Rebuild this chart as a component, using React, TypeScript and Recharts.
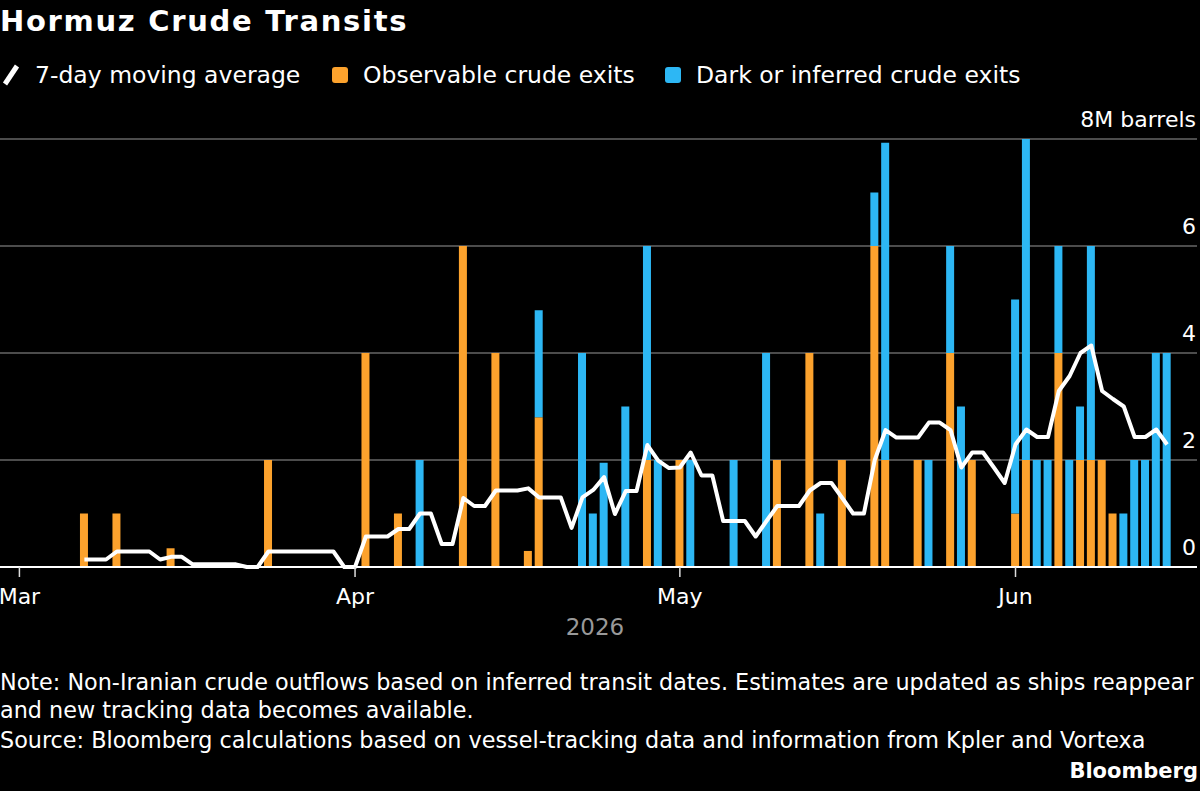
import React from 'react';
import { ComposedChart, Bar, Line, XAxis, YAxis, CartesianGrid } from 'recharts';

// ---- categories ----
const monthNames = ['Mar', 'Apr', 'May', 'Jun'];
const monthDays = [31, 30, 31, 15];

// ---- observable crude exits (M barrels), one value per day ----
const observableMar = [0, 0, 0, 0, 0, 0, 1, 0, 0, 1, 0, 0, 0, 0, 0.35, 0, 0, 0, 0, 0, 0, 0, 0, 2, 0, 0, 0, 0, 0, 0, 0];
const observableApr = [0, 4, 0, 0, 1, 0, 0, 0, 0, 0, 6, 0, 0, 4, 0, 0, 0.3, 2.8, 0, 0, 0, 0, 0, 0, 0, 0, 0, 2, 0, 0];
const observableMay = [2, 0, 0, 0, 0, 0, 0, 0, 0, 2, 0, 0, 4, 0, 0, 2, 0, 0, 6, 2, 0, 0, 2, 0, 0, 4, 0, 2, 0, 0, 0];
const observableJun = [1, 2, 0, 0, 4, 0, 2, 2, 2, 1, 0, 0, 0, 0, 0];

// ---- dark or inferred crude exits (M barrels) ----
const darkMar = [0, 0, 0, 0, 0, 0, 0, 0, 0, 0, 0, 0, 0, 0, 0, 0, 0, 0, 0, 0, 0, 0, 0, 0, 0, 0, 0, 0, 0, 0, 0];
const darkApr = [0, 0, 0, 0, 0, 0, 2, 0, 0, 0, 0, 0, 0, 0, 0, 0, 0, 2, 0, 0, 0, 4, 1, 1.95, 0, 3, 0, 4, 2, 0];
const darkMay = [0, 2, 0, 0, 0, 2, 0, 0, 4, 0, 0, 0, 0, 1, 0, 0, 0, 0, 1, 5.93, 0, 0, 0, 2, 0, 2, 3, 0, 0, 0, 0];
const darkJun = [4, 6, 2, 2, 2, 2, 1, 4, 0, 0, 1, 2, 2, 4, 4];

// ---- 7-day moving average (M barrels) ----
const avgMar = [null, null, null, null, null, null, 0.14, 0.14, 0.14, 0.29, 0.29, 0.29, 0.29, 0.14, 0.19, 0.19, 0.05, 0.05, 0.05, 0.05, 0.05, 0, 0, 0.29, 0.29, 0.29, 0.29, 0.29, 0.29, 0.29, 0];
const avgApr = [0, 0.57, 0.57, 0.57, 0.71, 0.71, 1.0, 1.0, 0.43, 0.43, 1.29, 1.14, 1.14, 1.43, 1.43, 1.43, 1.47, 1.3, 1.3, 1.3, 0.73, 1.3, 1.44, 1.68, 0.99, 1.42, 1.42, 2.28, 1.99, 1.85];
const avgMay = [1.86, 2.14, 1.71, 1.71, 0.86, 0.86, 0.86, 0.57, 0.86, 1.14, 1.14, 1.14, 1.43, 1.57, 1.57, 1.29, 1.0, 1.0, 2.0, 2.56, 2.42, 2.42, 2.42, 2.7, 2.7, 2.56, 1.86, 2.14, 2.14, 1.86, 1.57];
const avgJun = [2.29, 2.57, 2.43, 2.43, 3.29, 3.57, 4.0, 4.14, 3.29, 3.14, 3.0, 2.43, 2.43, 2.57, 2.29];

// ---- axis ticks ----
const yTicks = [0, 2, 4, 6, 8];
const yTickLabels = ['0', '2', '4', '6', '8M barrels'];

const observable = [...observableMar, ...observableApr, ...observableMay, ...observableJun];
const dark = [...darkMar, ...darkApr, ...darkMay, ...darkJun];
const avg = [...avgMar, ...avgApr, ...avgMay, ...avgJun];

const categories: string[] = [];
monthNames.forEach((m, i) => {
  for (let d = 1; d <= monthDays[i]; d++) categories.push(`${m} ${d}`);
});
const xTicks = monthNames.map((m) => `${m} 1`);

const data = categories.map((c, i) => ({
  date: c,
  observable: observable[i],
  dark: dark[i],
  avg: avg[i],
}));

const W = 1200;
const H = 791;
const CHART_H = 640;
const MARGIN = { top: 139, right: 2, bottom: 0, left: 0 };
const FONT = "'DejaVu Sans', sans-serif";
const ORANGE = '#FCA22D';
const BLUE = '#2DB7F4';

const XTick = (props: any) => {
  const { x, y, payload } = props;
  return (
    <text x={x} y={y + 25} textAnchor="middle" fill="#ffffff" fontSize={22} fontFamily={FONT}>
      {String(payload.value).split(' ')[0]}
    </text>
  );
};

const YTick = (props: any) => {
  const { y, payload } = props;
  const idx = yTicks.indexOf(payload.value);
  return (
    <text x={W - 4} y={y - 12.5} textAnchor="end" fill="#ffffff" fontSize={22} fontFamily={FONT}>
      {yTickLabels[idx]}
    </text>
  );
};

export default function App() {
  const txt = { fontFamily: FONT };
  return (
    <div style={{ position: 'absolute', left: 0, top: 0, width: W, height: H, background: '#000', overflow: 'hidden' }}>
      <div style={{ position: 'absolute', left: 0, top: 0 }}>
        <ComposedChart width={W} height={CHART_H} data={data} margin={MARGIN} barCategoryGap={0}>
          <CartesianGrid vertical={false} stroke="#666666" strokeWidth={1.5} />
          <XAxis
            dataKey="date"
            ticks={xTicks}
            interval={0}
            tickSize={10}
            tickLine={{ stroke: '#dddddd', strokeWidth: 1.5 }}
            axisLine={{ stroke: '#ffffff', strokeWidth: 2 }}
            padding={{ left: 14, right: 24.5 }}
            height={73}
            tick={XTick}
          />
          <YAxis
            orientation="right"
            width={1}
            domain={[0, 8]}
            ticks={yTicks}
            axisLine={false}
            tickLine={false}
            tick={YTick}
            interval={0}
          />
          <Bar dataKey="observable" stackId="s" fill={ORANGE} barSize={8} isAnimationActive={false} />
          <Bar dataKey="dark" stackId="s" fill={BLUE} barSize={8} isAnimationActive={false} />
          <Line
            dataKey="avg"
            type="linear"
            stroke="#ffffff"
            strokeWidth={4}
            strokeLinejoin="round"
            dot={false}
            activeDot={false}
            isAnimationActive={false}
          />
        </ComposedChart>
      </div>
      <svg width={W} height={H} style={{ position: 'absolute', left: 0, top: 0, pointerEvents: 'none' }}>
        <text x={0} y={31} fill="#ffffff" fontSize={29} fontWeight="bold" letterSpacing={1.7} style={txt}>Hormuz Crude Transits</text>
        <line x1={5} y1={84} x2={17} y2={66} stroke="#ffffff" strokeWidth={5} />
        <text x={35} y={82.5} fill="#ffffff" fontSize={23.5} style={txt}>7-day moving average</text>
        <rect x={332} y={67} width={16} height={16} rx={3} fill={ORANGE} />
        <text x={363} y={82.5} fill="#ffffff" fontSize={23.5} style={txt}>Observable crude exits</text>
        <rect x={665} y={67} width={16} height={16} rx={3} fill={BLUE} />
        <text x={696} y={82.5} fill="#ffffff" fontSize={23.5} style={txt}>Dark or inferred crude exits</text>
        <text x={595} y={635} textAnchor="middle" fill="#999999" fontSize={23} style={txt}>2026</text>
        <text x={0} y={690} fill="#ffffff" fontSize={22.3} style={txt}>Note: Non-Iranian crude outflows based on inferred transit dates. Estimates are updated as ships reappear</text>
        <text x={0} y={718} fill="#ffffff" fontSize={22.3} style={txt}>and new tracking data becomes available.</text>
        <text x={0} y={748} fill="#ffffff" fontSize={22.3} style={txt}>Source: Bloomberg calculations based on vessel-tracking data and information from Kpler and Vortexa</text>
        <text x={1198} y={778} textAnchor="end" fill="#ffffff" fontSize={21} fontWeight="bold" style={txt}>Bloomberg</text>
      </svg>
    </div>
  );
}
